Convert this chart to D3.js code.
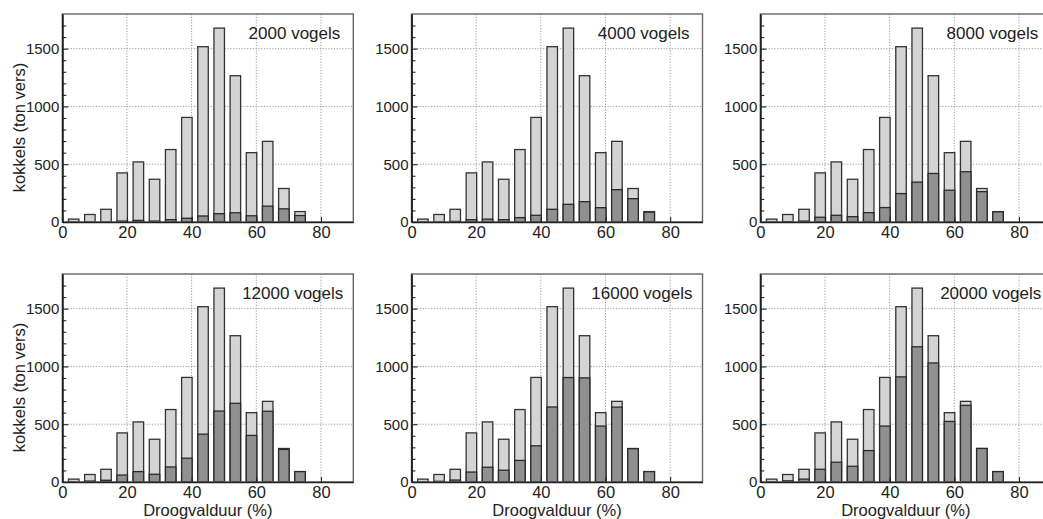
<!DOCTYPE html>
<html><head><meta charset="utf-8">
<script src="https://cdn.jsdelivr.net/npm/d3@7"></script>
<style>body{margin:0;background:#fff}svg{display:block}</style>
</head><body>
<svg id="c" width="1043" height="519"></svg>
<script>
// ---- data ----
const binStarts = [0, 5, 10, 15, 20, 25, 30, 35, 40, 45, 50, 55, 60, 65, 70];
const totalStock = [25, 65, 110, 425, 520, 370, 627, 905, 1517, 1678, 1266, 600, 698, 290, 90];
const panelTitles = ["2000 vogels", "4000 vogels", "8000 vogels", "12000 vogels", "16000 vogels", "20000 vogels"];
const eaten2000  = [0, 0, 0, 8, 14, 8, 20, 32, 52, 72, 80, 54, 137, 114, 56];
const eaten4000  = [0, 0, 5, 20, 25, 20, 38, 58, 110, 153, 176, 124, 280, 202, 85];
const eaten8000  = [0, 3, 8, 41, 58, 46, 81, 125, 246, 345, 420, 275, 435, 263, 88];
const eaten12000 = [0, 8, 15, 60, 90, 67, 130, 206, 414, 614, 681, 403, 612, 282, 90];
const eaten16000 = [0, 6, 17, 86, 128, 102, 187, 313, 649, 904, 901, 484, 648, 288, 90];
const eaten20000 = [0, 10, 25, 110, 171, 136, 272, 484, 910, 1170, 1030, 524, 663, 290, 90];
const eatenSeries = [eaten2000, eaten4000, eaten8000, eaten12000, eaten16000, eaten20000];
const xTicks = [0, 20, 40, 60, 80];
const yTicks = [0, 500, 1000, 1500];
const yMinorTicks = [100, 200, 300, 400, 600, 700, 800, 900, 1100, 1200, 1300, 1400, 1600, 1700];
const yLabel = "kokkels (ton vers)";
const xLabel = "Droogvalduur (%)";

// ---- layout ----
const FONT = "'Liberation Sans', Arial, Helvetica, sans-serif";
const panelLefts = [62.3, 411.5, 760.3];
const rowTops = [14, 274];
const PW = 291, PH = 208;
const svg = d3.select("#c");

const x = d3.scaleLinear().domain([0, 90]).range([0, PW]);
const y = d3.scaleLinear().domain([0, 1800]).range([PH, 0]);
const fmt = d3.format("d");

eatenSeries.forEach((eaten, idx) => {
  const col = idx % 3, row = Math.floor(idx / 3);
  const g = svg.append("g").attr("transform", `translate(${panelLefts[col]},${rowTops[row]})`);

  // grid
  g.append("g").selectAll("line").data(xTicks.filter(d => d > 0)).join("line")
    .attr("x1", d => x(d)).attr("x2", d => x(d)).attr("y1", 0).attr("y2", PH)
    .attr("stroke", "#9a9a9a").attr("stroke-width", 1).attr("stroke-dasharray", "1.2,1.6");
  g.append("g").selectAll("line").data(yTicks.filter(d => d > 0)).join("line")
    .attr("x1", 0).attr("x2", PW).attr("y1", d => y(d)).attr("y2", d => y(d))
    .attr("stroke", "#9a9a9a").attr("stroke-width", 1).attr("stroke-dasharray", "1.2,1.6");

  const bars = binStarts.map((s, i) => ({ s, total: totalStock[i], eaten: eaten[i] }));
  const bx = d => x(d.s + 1.9);
  const bw = d => x(d.s + 5.15) - x(d.s + 1.9);

  g.append("g").selectAll("rect").data(bars).join("rect")
    .attr("x", bx).attr("width", bw)
    .attr("y", d => y(d.total)).attr("height", d => y(0) - y(d.total))
    .attr("fill", "#d4d4d4").attr("stroke", "#333").attr("stroke-width", 1.3);
  g.append("g").selectAll("rect").data(bars.filter(d => d.eaten > 0)).join("rect")
    .attr("x", bx).attr("width", bw)
    .attr("y", d => y(d.eaten)).attr("height", d => y(0) - y(d.eaten))
    .attr("fill", "#909090").attr("stroke", "#2a2a2a").attr("stroke-width", 1.3);

  // frame
  g.append("rect").attr("x", 0).attr("y", 0).attr("width", PW).attr("height", PH)
    .attr("fill", "none").attr("stroke", "#666").attr("stroke-width", 1.4);

  // axes
  const ya = g.append("g").call(d3.axisLeft(y).tickValues(yTicks).tickFormat(fmt).tickSize(-6).tickSizeOuter(0).tickPadding(3));
  ya.append("g").call(d3.axisLeft(y).tickValues(yMinorTicks).tickSize(-4).tickSizeOuter(0).tickFormat(""));
  ya.selectAll("text").attr("font-size", "15px").attr("font-family", FONT).attr("fill", "#222");
  ya.selectAll("line").attr("stroke", "#222").attr("stroke-width", 1.1);
  ya.selectAll("path.domain").attr("stroke", "#222").attr("stroke-width", 1.5);

  const xa = g.append("g").attr("transform", `translate(0,${PH})`)
    .call(d3.axisBottom(x).tickValues(xTicks).tickFormat(fmt).tickSize(-5).tickSizeOuter(0).tickPadding(4));
  xa.selectAll("text").attr("font-size", "16.5px").attr("font-family", FONT).attr("fill", "#222");
  xa.selectAll("line").attr("stroke", "#222").attr("stroke-width", 1.1);
  xa.selectAll("path.domain").attr("stroke", "#222").attr("stroke-width", 1.5);

  // panel title
  g.append("text").attr("x", PW - (row === 0 ? 13 : 10)).attr("y", 25)
    .attr("text-anchor", "end").attr("font-size", "17px").attr("font-family", FONT)
    .attr("fill", "#222").text(panelTitles[idx]);

  if (col === 0) {
    g.append("text").attr("transform", `translate(${19 - panelLefts[0]},${113.5}) rotate(-90)`)
      .attr("text-anchor", "middle").attr("dominant-baseline", "central")
      .attr("font-size", "16.5px").attr("font-family", FONT).attr("fill", "#222").text(yLabel);
  }
  if (row === 1) {
    g.append("text").attr("x", PW / 2).attr("y", 516 - rowTops[1])
      .attr("text-anchor", "middle").attr("font-size", "16.5px").attr("font-family", FONT)
      .attr("fill", "#222").text(xLabel);
  }
});
</script>
</body></html>
